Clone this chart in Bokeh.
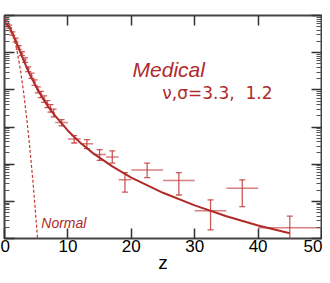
import numpy as np
from bokeh.plotting import figure
from bokeh.models import (LinearAxis, LogAxis, FixedTicker, Whisker, TeeHead,
                          ColumnDataSource, Label)
from bokeh.embed import file_html
from bokeh.resources import INLINE

# ---- data (y values as log10) ----
z_bin = [0.25, 0.75, 1.25, 1.75, 2.25, 2.75, 3.25, 3.75, 4.25, 4.75, 5.25, 5.75,
         6.25, 6.75, 7.25, 7.75, 9, 11, 13, 15, 17, 19, 22.5, 27.5, 32.5, 37.5, 45]
z_half = [0.25, 0.25, 0.25, 0.25, 0.25, 0.25, 0.25, 0.25, 0.25, 0.25, 0.25, 0.25,
          0.25, 0.25, 0.25, 0.25, 1, 1, 1, 1, 1, 1, 2.5, 2.5, 2.5, 2.5, 5]
log_rate = [-0.13, -0.30, -0.48, -0.66, -0.86, -1.02, -1.20, -1.44, -1.62, -1.80,
            -2.00, -2.12, -2.25, -2.38, -2.50, -2.62, -2.88, -3.32, -3.45, -3.74,
            -3.81, -4.42, -4.16, -4.44, -5.25, -4.65, -5.71]
log_err_up = [0.04, 0.04, 0.04, 0.05, 0.05, 0.05, 0.06, 0.06, 0.07, 0.07, 0.08, 0.08,
              0.09, 0.09, 0.10, 0.10, 0.08, 0.09, 0.11, 0.13, 0.17, 0.19, 0.19, 0.21,
              0.29, 0.23, 0.31]
log_err_dn = [0.04, 0.04, 0.05, 0.05, 0.05, 0.06, 0.06, 0.07, 0.07, 0.08, 0.08, 0.09,
              0.09, 0.10, 0.10, 0.11, 0.09, 0.11, 0.13, 0.16, 0.16, 0.33, 0.20, 0.39,
              0.52, 0.49, 0.50]

z_model = [0, 0.5, 1, 2, 3, 4, 5, 6, 7, 8, 10, 12, 14, 17, 20, 25, 30, 35, 40, 45]
log_model = [-0.19, -0.26, -0.39, -0.78, -1.20, -1.59, -1.92, -2.22, -2.48, -2.70,
             -3.10, -3.43, -3.71, -4.06, -4.36, -4.77, -5.11, -5.40, -5.65, -5.86]

z_normal = [0, 0.5, 1, 1.5, 2, 2.5, 3, 3.5, 4, 4.5, 5, 5.25]
log_normal = [-0.10, -0.15, -0.32, -0.59, -0.97, -1.45, -2.05, -2.76, -3.57, -4.49,
              -5.53, -6.08]

x_ticks = [0, 10, 20, 30, 40, 50]
y_decades = [1e-6, 1e-5, 1e-4, 1e-3, 1e-2, 1e-1, 1]

RED = "#b02a2a"
ERR = "#c43c3c"
FONT = "Liberation Sans"

z = np.array(z_bin, float)
dz = np.array(z_half, float)
lr = np.array(log_rate, float)
src = ColumnDataSource(dict(
    z=z, x0=z - dz, x1=z + dz,
    y=10 ** lr,
    hi=10 ** (lr + np.array(log_err_up)),
    lo=10 ** (lr - np.array(log_err_dn)),
))

p = figure(width=322, height=275, x_range=(0, 50), y_range=(1e-6, 1),
           y_axis_type="log", output_backend="svg", toolbar_location=None,
           min_border_left=4, min_border_right=1, min_border_top=15,
           min_border_bottom=0)
p.grid.visible = False
p.outline_line_color = "#444444"
p.outline_line_width = 2
p.background_fill_color = "white"
p.border_fill_color = "white"

minor = [m * d for d in y_decades[:-1] for m in range(2, 10)]
yt = FixedTicker(ticks=y_decades, minor_ticks=minor)

def hide_labels(ax):
    ax.major_label_text_font_size = "1px"
    ax.major_label_text_color = None
    ax.major_label_standoff = 0

def style_y(ax):
    ax.ticker = yt
    hide_labels(ax)
    ax.major_tick_in = 10
    ax.major_tick_out = 0
    ax.minor_tick_in = 5
    ax.minor_tick_out = 0
    ax.axis_line_color = None
    ax.major_tick_line_color = "#333333"
    ax.minor_tick_line_color = "#555555"
    ax.major_tick_line_width = 1.5

style_y(p.yaxis[0])
right = LogAxis()
style_y(right)
p.add_layout(right, "right")

xa = p.xaxis[0]
xa.ticker = FixedTicker(ticks=x_ticks)
xa.major_tick_in = 10
xa.major_tick_out = 0
xa.minor_tick_line_color = None
xa.axis_line_color = None
xa.major_tick_line_color = "#333333"
xa.major_tick_line_width = 1.5
xa.major_label_text_font = FONT
xa.major_label_text_font_size = "17px"
xa.major_label_text_color = "black"
xa.major_label_standoff = 1
xa.axis_label = "z"
xa.axis_label_text_font = FONT
xa.axis_label_text_font_style = "normal"
xa.axis_label_text_font_size = "19px"
xa.axis_label_text_color = "black"
xa.axis_label_standoff = -3

top = LinearAxis(ticker=FixedTicker(ticks=x_ticks[1:-1]))
hide_labels(top)
top.major_tick_in = 10
top.major_tick_out = 0
top.minor_tick_line_color = None
top.axis_line_color = None
top.major_tick_line_color = "#333333"
top.major_tick_line_width = 1.5
p.add_layout(top, "above")

# error bars
p.segment(x0="x0", y0="y", x1="x1", y1="y", source=src, line_color=ERR,
          line_alpha=0.65, line_width=1.5)
p.add_layout(Whisker(source=src, base="z", upper="hi", lower="lo",
                     dimension="height", line_color=ERR, line_alpha=0.85,
                     line_width=1.3,
                     upper_head=TeeHead(size=6, line_color=ERR, line_alpha=0.85, line_width=1.3),
                     lower_head=TeeHead(size=6, line_color=ERR, line_alpha=0.85, line_width=1.3)))

p.line(z_model, [10 ** v for v in log_model], line_color=RED, line_width=2)
p.line(z_normal, [10 ** v for v in log_normal], line_color="#c0392b",
       line_width=1.2, line_dash="3 2")

p.add_layout(Label(x=20.2, y=10 ** -1.45, text="Medical", text_font=FONT,
                   text_font_style="italic", text_font_size="21px",
                   text_color=RED, text_baseline="alphabetic"))
p.add_layout(Label(x=24.9, y=10 ** -2.08, text="ν,σ=3.3,\u00a0 1.2",
                   text_font="DejaVu Sans", text_font_size="17px",
                   text_color=RED, text_baseline="alphabetic"))
p.add_layout(Label(x=5.8, y=10 ** -5.58, text="Normal", text_font=FONT,
                   text_font_style="italic", text_font_size="14px",
                   text_color=RED, text_baseline="alphabetic"))

open("out.html", "w").write(file_html(p, INLINE))
